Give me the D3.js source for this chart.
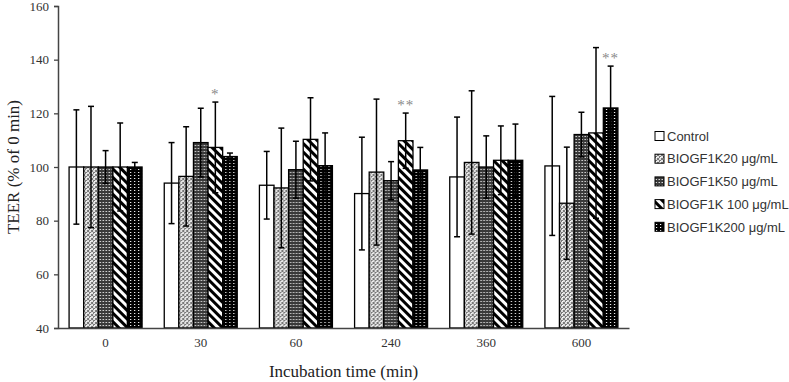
<!DOCTYPE html>
<html>
<head>
<meta charset="utf-8">
<script src="https://cdn.jsdelivr.net/npm/d3@7"></script>
<style>
  body { margin: 0; background: #fff; }
  svg { display: block; }
  text { -webkit-font-smoothing: antialiased; }
</style>
</head>
<body>
<svg id="chart" width="789" height="382"></svg>
<script>
// ---- data ----
const categories = ["0", "30", "60", "240", "360", "600"];
const seriesNames = ["Control", "BIOGF1K20 μg/mL", "BIOGF1K50 μg/mL", "BIOGF1K 100 μg/mL", "BIOGF1K200 μg/mL"];
const control   = [100, 94.0, 93.2, 90.1, 96.3, 100.4];
const biogf20   = [100, 96.5, 92.2, 98.1, 101.7, 86.5];
const biogf50   = [100, 109.1, 99.0, 94.9, 100.0, 112.1];
const biogf100  = [100, 107.3, 110.3, 109.8, 102.5, 112.7];
const biogf200  = [100, 103.9, 100.5, 98.9, 102.5, 122.0];
const sdControl = [21.3, 15.1, 12.6, 21.0, 22.3, 25.9];
const sd20      = [22.6, 18.5, 22.3, 27.2, 26.7, 20.9];
const sd50      = [6.1, 12.8, 10.6, 7.1, 11.6, 8.3];
const sd100     = [16.4, 16.9, 15.5, 10.3, 12.8, 31.8];
const sd200     = [1.7, 1.3, 12.2, 8.4, 13.5, 15.6];
const yTicks = [40, 60, 80, 100, 120, 140, 160];
// significance marks: [category, series index, label]
const marks = [["30", 3, "*"], ["240", 3, "**"], ["600", 4, "**"]];

const values = [control, biogf20, biogf50, biogf100, biogf200];
const sds = [sdControl, sd20, sd50, sd100, sd200];

const svg = d3.select("#chart");
const L = 58, R = 629, T = 6, B = 328;

// patterns
const defs = svg.append("defs");
{
  let p = defs.append("pattern").attr("id", "p20").attr("patternUnits", "userSpaceOnUse").attr("width", 4).attr("height", 4);
  p.append("rect").attr("width", 4).attr("height", 4).attr("fill", "#e2e2e2");
  p.append("rect").attr("x", 0).attr("y", 0).attr("width", 2).attr("height", 2).attr("fill", "#777");
  p.append("rect").attr("x", 2).attr("y", 2).attr("width", 2).attr("height", 2).attr("fill", "#777");
  p.append("rect").attr("x", 1).attr("y", 1).attr("width", 1).attr("height", 1).attr("fill", "#fff");

  p = defs.append("pattern").attr("id", "p50").attr("patternUnits", "userSpaceOnUse").attr("width", 3).attr("height", 3);
  p.append("rect").attr("width", 3).attr("height", 3).attr("fill", "#3a3a3a");
  p.append("rect").attr("x", 1).attr("y", 1).attr("width", 1).attr("height", 1).attr("fill", "#d8d8d8");
  p.append("rect").attr("x", 0).attr("y", 1).attr("width", 1).attr("height", 1).attr("fill", "#8a8a8a");

  p = defs.append("pattern").attr("id", "p100").attr("patternUnits", "userSpaceOnUse").attr("width", 6).attr("height", 6).attr("patternTransform", "rotate(-45)");
  p.append("rect").attr("width", 6).attr("height", 6).attr("fill", "#fff");
  p.append("rect").attr("x", 0).attr("y", 0).attr("width", 3).attr("height", 6).attr("fill", "#000");

  p = defs.append("pattern").attr("id", "p200").attr("patternUnits", "userSpaceOnUse").attr("width", 4).attr("height", 3);
  p.append("rect").attr("width", 4).attr("height", 3).attr("fill", "#000");
  p.append("rect").attr("x", 1).attr("y", 1).attr("width", 1.2).attr("height", 1).attr("fill", "#fff");
}
const fills = ["#fff", "url(#p20)", "url(#p50)", "url(#p100)", "url(#p200)"];

const x0 = d3.scaleBand().domain(categories).range([L, R]).paddingInner(0.233).paddingOuter(0.1165);
const x1 = d3.scaleBand().domain(d3.range(seriesNames.length)).range([0, x0.bandwidth()]);
const y = d3.scaleLinear().domain([40, 160]).range([B, T]);

// bars
const gGroups = svg.append("g").selectAll("g").data(categories).join("g")
  .attr("transform", c => `translate(${x0(c)},0)`);

gGroups.each(function(c, ci) {
  const g = d3.select(this);
  seriesNames.forEach((s, si) => {
    const v = values[si][ci];
    g.append("rect")
      .attr("x", x1(si)).attr("y", y(v))
      .attr("width", x1.bandwidth()).attr("height", y(40) - y(v))
      .attr("fill", fills[si]).attr("stroke", "#000").attr("stroke-width", 1.3);
  });
  seriesNames.forEach((s, si) => {
    const v = values[si][ci], e = sds[si][ci];
    const cx = x1(si) + x1.bandwidth() / 2;
    const eg = g.append("g").attr("stroke", "#000").attr("stroke-width", 1.5);
    eg.append("line").attr("x1", cx).attr("x2", cx).attr("y1", y(v + e)).attr("y2", y(v - e));
    eg.append("line").attr("x1", cx - 3).attr("x2", cx + 3).attr("y1", y(v + e)).attr("y2", y(v + e));
    eg.append("line").attr("x1", cx - 3).attr("x2", cx + 3).attr("y1", y(v - e)).attr("y2", y(v - e));
  });
});

// significance marks
marks.forEach(([c, si, lab]) => {
  const ci = categories.indexOf(c);
  const v = values[si][ci] + sds[si][ci];
  svg.append("text")
    .attr("x", x0(c) + x1(si) + x1.bandwidth() / 2)
    .attr("y", y(v) - 3)
    .attr("text-anchor", "middle")
    .attr("font-family", "Liberation Serif, Times New Roman, serif")
    .attr("font-size", 15)
    .attr("letter-spacing", 1)
    .attr("fill", "#888")
    .text(lab);
});

// axes
const yAxis = d3.axisLeft(y).tickValues(yTicks).tickSize(4).tickPadding(5);
const ya = svg.append("g").attr("transform", `translate(${L},0)`).call(yAxis);
ya.select(".domain").attr("stroke", "#444").attr("stroke-width", 1.5);
ya.selectAll(".tick line").attr("stroke", "#444").attr("stroke-width", 1.3);
ya.selectAll(".tick text").attr("font-family", "Liberation Serif, Times New Roman, serif").attr("font-size", 13).attr("fill", "#333");

const xAxis = d3.axisBottom(x0).tickSize(0).tickPadding(10);
const xa = svg.append("g").attr("transform", `translate(0,${B})`).call(xAxis);
xa.select(".domain").attr("stroke", "#444").attr("stroke-width", 1.5);
xa.selectAll(".tick text").attr("font-family", "Liberation Serif, Times New Roman, serif").attr("font-size", 13).attr("fill", "#333");

// axis titles
svg.append("text")
  .attr("transform", `translate(19,${(T + B) / 2}) rotate(-90)`)
  .attr("text-anchor", "middle")
  .attr("font-family", "Liberation Serif, Times New Roman, serif")
  .attr("font-size", 17).attr("fill", "#222")
  .text("TEER (% of 0 min)");
svg.append("text")
  .attr("x", (L + R) / 2).attr("y", 377)
  .attr("text-anchor", "middle")
  .attr("font-family", "Liberation Serif, Times New Roman, serif")
  .attr("font-size", 17).attr("fill", "#222")
  .text("Incubation time (min)");

// legend
const leg = svg.append("g").attr("transform", "translate(655,136)");
seriesNames.forEach((s, si) => {
  const gy = si * 22.7;
  leg.append("rect").attr("x", 0).attr("y", gy - 4.5).attr("width", 9).attr("height", 9)
    .attr("fill", fills[si]).attr("stroke", "#000").attr("stroke-width", 1);
  leg.append("text").attr("x", 12).attr("y", gy + 4.7)
    .attr("font-family", "Liberation Sans, Arial, sans-serif")
    .attr("font-size", 13).attr("fill", "#333")
    .text(s);
});
</script>
</body>
</html>
